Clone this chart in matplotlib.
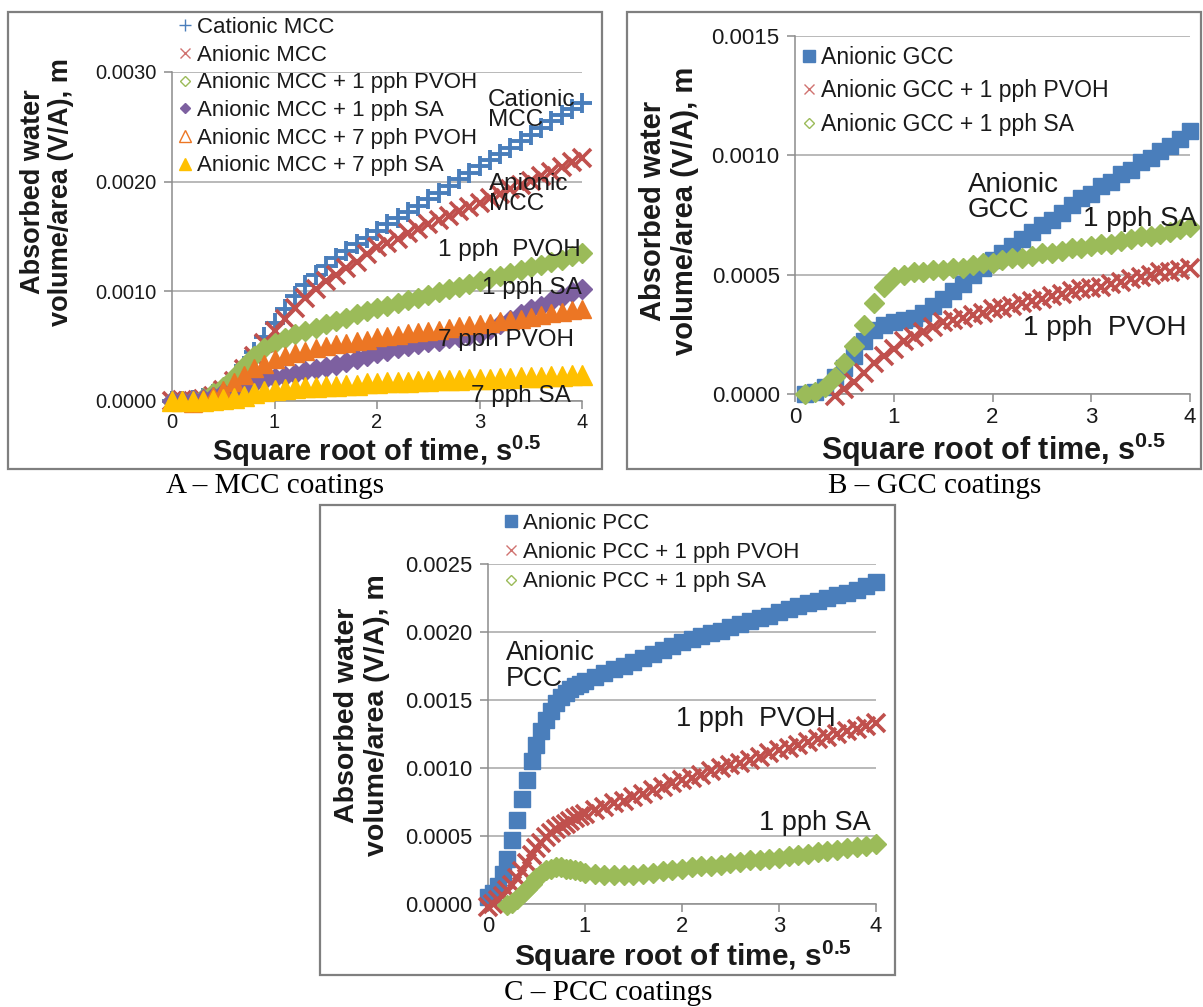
import numpy as np
import matplotlib
matplotlib.use('Agg')
import matplotlib.pyplot as plt
from matplotlib.lines import Line2D
from matplotlib.patches import Rectangle
from matplotlib.ticker import FormatStrFormatter

plt.rcParams['font.family'] = ['Liberation Sans', 'DejaVu Sans']
plt.rcParams['mathtext.fontset'] = 'custom'
plt.rcParams['mathtext.rm'] = 'Liberation Sans'
plt.rcParams['mathtext.bf'] = 'Liberation Sans:bold'

nan = np.nan

# Square root of time (s^0.5) for the MCC and GCC runs
sqrt_t = [0.0, 0.1, 0.2, 0.3, 0.4, 0.5, 0.6, 0.7, 0.8, 0.9,
          1.0, 1.1, 1.2, 1.3, 1.4, 1.5, 1.6, 1.7, 1.8, 1.9,
          2.0, 2.1, 2.2, 2.3, 2.4, 2.5, 2.6, 2.7, 2.8, 2.9,
          3.0, 3.1, 3.2, 3.3, 3.4, 3.5, 3.6, 3.7, 3.8, 3.9, 4.0]
# PCC runs are sampled finer over the fast initial uptake
sqrt_t_pcc = [0.0, 0.05, 0.1, 0.15, 0.2, 0.25, 0.3, 0.35, 0.4, 0.45,
              0.5, 0.55, 0.6, 0.65, 0.7, 0.75, 0.8, 0.85, 0.9, 0.95,
              1.0, 1.1, 1.2, 1.3, 1.4, 1.5, 1.6, 1.7, 1.8, 1.9,
              2.0, 2.1, 2.2, 2.3, 2.4, 2.5, 2.6, 2.7, 2.8, 2.9,
              3.0, 3.1, 3.2, 3.3, 3.4, 3.5, 3.6, 3.7, 3.8, 3.9, 4.0]

# Absorbed water volume/area, in units of 1e-3 m
# A - MCC coatings
cationic_mcc = [0.00, 0.00, 0.01, 0.03, 0.06, 0.11, 0.20, 0.32, 0.45, 0.58,
                0.71, 0.84, 0.96, 1.06, 1.15, 1.23, 1.30, 1.37, 1.43, 1.49,
                1.55, 1.61, 1.67, 1.72, 1.78, 1.84, 1.90, 1.96, 2.02, 2.08,
                2.14, 2.20, 2.25, 2.31, 2.37, 2.43, 2.49, 2.55, 2.61, 2.66, 2.72]
anionic_mcc = [0.00, 0.01, 0.00, 0.02, 0.05, 0.10, 0.18, 0.29, 0.41, 0.53,
               0.64, 0.75, 0.85, 0.94, 1.02, 1.09, 1.15, 1.21, 1.27, 1.34,
               1.40, 1.44, 1.48, 1.53, 1.57, 1.61, 1.65, 1.69, 1.73, 1.77,
               1.81, 1.85, 1.89, 1.93, 1.97, 2.01, 2.05, 2.09, 2.13, 2.18, 2.22]
mcc_1pvoh = [0.00, 0.00, 0.01, 0.03, 0.07, 0.13, 0.22, 0.32, 0.41, 0.48,
             0.53, 0.57, 0.61, 0.64, 0.67, 0.70, 0.73, 0.76, 0.79, 0.82,
             0.85, 0.87, 0.89, 0.92, 0.94, 0.97, 0.99, 1.02, 1.04, 1.07,
             1.09, 1.12, 1.14, 1.17, 1.19, 1.22, 1.24, 1.27, 1.29, 1.32, 1.35]
mcc_1sa = [0.00, 0.00, 0.01, 0.02, 0.04, 0.07, 0.10, 0.13, 0.16, 0.19,
           0.21, 0.23, 0.25, 0.27, 0.29, 0.31, 0.33, 0.36, 0.38, 0.41,
           0.44, 0.46, 0.48, 0.50, 0.52, 0.54, 0.55, 0.57, 0.58, 0.60,
           0.62, 0.66, 0.70, 0.74, 0.79, 0.84, 0.87, 0.91, 0.95, 0.99, 1.02]
mcc_7pvoh = [0.00, 0.01, -0.02, 0.02, 0.05, 0.10, 0.17, 0.24, 0.30, 0.34,
             0.38, 0.41, 0.44, 0.46, 0.48, 0.50, 0.52, 0.53, 0.55, 0.56,
             0.58, 0.59, 0.60, 0.62, 0.63, 0.64, 0.65, 0.67, 0.68, 0.69,
             0.70, 0.71, 0.73, 0.74, 0.75, 0.77, 0.78, 0.80, 0.81, 0.83, 0.84]
mcc_7sa = [0.00, 0.00, 0.00, 0.00, 0.01, 0.02, 0.03, 0.05, 0.07, 0.09,
           0.10, 0.11, 0.12, 0.13, 0.13, 0.14, 0.14, 0.15, 0.15, 0.16,
           0.16, 0.17, 0.17, 0.17, 0.18, 0.18, 0.19, 0.19, 0.19, 0.20,
           0.20, 0.20, 0.21, 0.21, 0.22, 0.22, 0.22, 0.23, 0.23, 0.24, 0.24]

# B - GCC coatings
anionic_gcc = [nan, 0.00, 0.01, 0.03, 0.07, 0.11, 0.16, 0.22, 0.27, 0.29,
               0.30, 0.31, 0.32, 0.34, 0.37, 0.40, 0.43, 0.46, 0.50, 0.53,
               0.56, 0.59, 0.62, 0.65, 0.68, 0.71, 0.73, 0.76, 0.79, 0.82,
               0.84, 0.87, 0.89, 0.92, 0.94, 0.97, 0.99, 1.02, 1.04, 1.07, 1.10]
gcc_1pvoh = [nan, nan, nan, nan, -0.01, 0.02, 0.05, 0.09, 0.13, 0.16,
             0.19, 0.22, 0.24, 0.26, 0.28, 0.30, 0.31, 0.32, 0.33, 0.34,
             0.355, 0.36, 0.37, 0.38, 0.39, 0.40, 0.41, 0.42, 0.43, 0.44,
             0.445, 0.45, 0.46, 0.47, 0.48, 0.49, 0.50, 0.51, 0.51, 0.52, 0.53]
gcc_1sa = [nan, 0.00, 0.01, 0.03, 0.07, 0.13, 0.20, 0.29, 0.38, 0.45,
           0.49, 0.50, 0.51, 0.51, 0.52, 0.52, 0.53, 0.53, 0.54, 0.55,
           0.55, 0.56, 0.57, 0.57, 0.58, 0.59, 0.59, 0.60, 0.61, 0.61,
           0.62, 0.63, 0.63, 0.64, 0.65, 0.66, 0.66, 0.67, 0.68, 0.69, 0.70]

# C - PCC coatings
anionic_pcc = [0.05, 0.08, 0.13, 0.22, 0.33, 0.47, 0.62, 0.77, 0.91, 1.05,
               1.17, 1.27, 1.35, 1.42, 1.48, 1.52, 1.55, 1.58, 1.60, 1.62,
               1.64, 1.67, 1.70, 1.73, 1.75, 1.78, 1.81, 1.84, 1.87, 1.90,
               1.93, 1.95, 1.97, 1.99, 2.01, 2.04, 2.06, 2.08, 2.10, 2.12,
               2.15, 2.17, 2.19, 2.21, 2.23, 2.25, 2.27, 2.29, 2.31, 2.34, 2.37]
pcc_1pvoh = [-0.02, 0.00, 0.03, 0.06, 0.10, 0.14, 0.19, 0.24, 0.30, 0.36,
             0.41, 0.45, 0.49, 0.52, 0.55, 0.57, 0.59, 0.61, 0.63, 0.645,
             0.66, 0.69, 0.71, 0.74, 0.76, 0.79, 0.81, 0.84, 0.86, 0.89,
             0.91, 0.93, 0.95, 0.98, 1.00, 1.02, 1.04, 1.06, 1.08, 1.11,
             1.13, 1.15, 1.17, 1.19, 1.21, 1.23, 1.25, 1.27, 1.29, 1.31, 1.33]
pcc_1sa = [nan, nan, nan, nan, -0.01, 0.01, 0.04, 0.07, 0.11, 0.15,
           0.19, 0.22, 0.25, 0.26, 0.27, 0.27, 0.26, 0.26, 0.25, 0.24,
           0.23, 0.22, 0.21, 0.21, 0.21, 0.21, 0.22, 0.23, 0.24, 0.25,
           0.26, 0.27, 0.28, 0.28, 0.29, 0.30, 0.31, 0.32, 0.32, 0.33,
           0.34, 0.35, 0.36, 0.37, 0.38, 0.39, 0.40, 0.41, 0.42, 0.43, 0.44]

labels_a = ['Cationic MCC', 'Anionic MCC', 'Anionic MCC + 1 pph PVOH',
            'Anionic MCC + 1 pph SA', 'Anionic MCC + 7 pph PVOH', 'Anionic MCC + 7 pph SA']
labels_b = ['Anionic GCC', 'Anionic GCC + 1 pph PVOH', 'Anionic GCC + 1 pph SA']
labels_c = ['Anionic PCC', 'Anionic PCC + 1 pph PVOH', 'Anionic PCC + 1 pph SA']

BLUE, RED, GREEN = '#4A7EBB', '#C0504D', '#9BBB59'
PURPLE, ORANGE, YELLOW = '#7D60A0', '#EC7624', '#FFC000'
TXT = '#1a1a1a'

W, H = 1203, 1007
fig = plt.figure(figsize=(W / 100, H / 100), dpi=100)


def px_rect(left, top, right, bottom):
    return [left / W, 1 - bottom / H, (right - left) / W, (bottom - top) / H]


def fx(x):
    return x / W


def fy(y):
    return 1 - y / H


# (marker, size, face, edge, edge width) on the plot and in the legend
styles = {
    'plus': ('+', 14, BLUE, BLUE, 2.8),
    'cross': ('x', 13, RED, RED, 2.6),
    'dia_open': ('D', 10.5, GREEN, GREEN, 1.0),
    'dia': ('D', 10.5, PURPLE, PURPLE, 1.0),
    'tri_open': ('^', 13, ORANGE, ORANGE, 1.0),
    'tri': ('^', 15, YELLOW, YELLOW, 1.0),
    'sq': ('s', 11, BLUE, BLUE, 1.0),
}
legend_styles = {
    'plus': ('+', 8, BLUE, BLUE, 1.0),
    'cross': ('x', 7, '#D07370', '#D07370', 1.0),
    'dia_open': ('D', 5.5, 'white', GREEN, 1.0),
    'dia': ('D', 5.5, PURPLE, PURPLE, 1.0),
    'tri_open': ('^', 8, 'white', ORANGE, 1.0),
    'tri': ('^', 9, YELLOW, YELLOW, 1.0),
    'sq': ('s', 9, BLUE, BLUE, 1.0),
}


def draw_panel(rect, x, ymax, ystep, tick_fs, series, keys):
    ax = fig.add_axes(px_rect(*rect))
    ax.patch.set_alpha(0)
    for vals, key in zip(series, keys):
        m, ms, fc, ec, mew = styles[key]
        ax.plot(x, np.array(vals) * 1e-3, ls='none', marker=m, ms=ms,
                mfc=fc, mec=ec, mew=mew, clip_on=False, zorder=3)
    ax.set_xlim(0, 4)
    ax.set_ylim(0, ymax)
    ax.set_xticks([0, 1, 2, 3, 4])
    ax.set_yticks(np.arange(0, ymax + ystep / 2, ystep))
    ax.yaxis.set_major_formatter(FormatStrFormatter('%.4f'))
    ax.grid(axis='y', color='#A6A6A6', lw=1.1)
    ax.set_axisbelow(True)
    for s in ['top', 'right']:
        ax.spines[s].set_visible(False)
    for s in ['left', 'bottom']:
        ax.spines[s].set_color('#8C8C8C')
        ax.spines[s].set_linewidth(1.1)
    ax.tick_params(direction='out', length=6, width=1.1, color='#8C8C8C',
                   labelsize=tick_fs, labelcolor=TXT)
    ax.tick_params(axis='x', pad=3)
    ax.tick_params(axis='y', pad=5)
    return ax


def add_legend(keys, labels, left, top, fs, spacing, textpad):
    handles = []
    for key in keys:
        m, ms, fc, ec, mew = legend_styles[key]
        handles.append(Line2D([], [], ls='none', marker=m, ms=ms, mfc=fc,
                              mec=ec, mew=mew))
    fig.legend(handles, labels, loc='upper left',
               bbox_to_anchor=(fx(left), fy(top)), frameon=False,
               fontsize=fs, handlelength=0.8, handletextpad=textpad,
               labelspacing=spacing, borderpad=0, borderaxespad=0,
               labelcolor=TXT)


def frame(left, top, right, bottom):
    fig.add_artist(Rectangle((fx(left), fy(bottom)), (right - left) / W,
                             (bottom - top) / H, transform=fig.transFigure,
                             fill=False, ec='#7F7F7F', lw=1.6))


def axis_titles(ylab_x, ylab_y, ylab_fs, xlab_x, xlab_y, xlab_fs):
    fig.text(fx(ylab_x), fy(ylab_y), 'Absorbed water\nvolume/area (V/A), m',
             rotation=90, ha='center', va='center', multialignment='center',
             fontsize=ylab_fs, fontweight='bold', color=TXT, linespacing=1.15)
    fig.text(fx(xlab_x), fy(xlab_y), r'Square root of time, s$^{\mathbf{0.5}}$',
             ha='center', va='center', fontsize=xlab_fs, fontweight='bold',
             color=TXT)


# ---- A: MCC coatings ----
frame(8, 12, 602, 469)
ax_a = draw_panel((172, 72, 582, 401), sqrt_t, 0.0030, 0.0010, 14.5,
                  [cationic_mcc, anionic_mcc, mcc_1pvoh, mcc_1sa, mcc_7pvoh, mcc_7sa],
                  ['plus', 'cross', 'dia_open', 'dia', 'tri_open', 'tri'])
add_legend(['plus', 'cross', 'dia_open', 'dia', 'tri_open', 'tri'], labels_a,
           176, 17, 16, 0.3, 0.14)
axis_titles(47, 192, 19.5, 377, 451, 21)
for x, y, s in [(3.08, 2.65e-3, 'Cationic\nMCC'), (3.09, 1.89e-3, 'Anionic\nMCC'),
                (2.60, 1.38e-3, '1 pph  PVOH'), (3.02, 1.03e-3, '1 pph SA'),
                (2.60, 0.56e-3, '7 pph PVOH'), (2.92, 0.05e-3, '7 pph SA')]:
    ax_a.text(x, y, s, fontsize=17.5, ha='left', va='center', color=TXT,
              linespacing=0.88, zorder=5)
fig.text(fx(275), fy(486), 'A \u2013 MCC coatings', family='Liberation Serif',
         fontsize=21, ha='center', va='center', color='black')

# ---- B: GCC coatings ----
frame(627, 12, 1201, 469)
ax_b = draw_panel((795, 36, 1190, 394), sqrt_t, 0.0015, 0.0005, 16,
                  [anionic_gcc, gcc_1pvoh, gcc_1sa], ['sq', 'cross', 'dia_open'])
add_legend(['sq', 'cross', 'dia_open'], labels_b, 800, 46, 16.6, 0.45, 0.1)
axis_titles(669, 211, 21, 993, 450, 22)
for x, y, s in [(1.75, 0.823e-3, 'Anionic\nGCC'), (2.92, 0.735e-3, '1 pph SA'),
                (2.31, 0.275e-3, '1 pph  PVOH')]:
    ax_b.text(x, y, s, fontsize=20, ha='left', va='center', color=TXT,
              linespacing=0.95, zorder=5)
fig.text(fx(935), fy(486), 'B \u2013 GCC coatings', family='Liberation Serif',
         fontsize=21, ha='center', va='center', color='black')

# ---- C: PCC coatings ----
frame(320, 505, 895, 975)
ax_c = draw_panel((488, 564, 876, 904), sqrt_t_pcc, 0.0025, 0.0005, 15.8,
                  [anionic_pcc, pcc_1pvoh, pcc_1sa], ['sq', 'cross', 'dia_open'])
add_legend(['sq', 'cross', 'dia_open'], labels_c, 502, 513, 16, 0.37, 0.14)
axis_titles(362, 715, 20.5, 683, 956, 21.5)
for x, y, s in [(0.18, 1.75e-3, 'Anionic\nPCC'), (1.94, 1.36e-3, '1 pph  PVOH'),
                (2.79, 0.596e-3, '1 pph SA')]:
    ax_c.text(x, y, s, fontsize=19.5, ha='left', va='center', color=TXT,
              linespacing=0.95, zorder=5)
fig.text(fx(608), fy(993), 'C \u2013 PCC coatings', family='Liberation Serif',
         fontsize=21, ha='center', va='center', color='black')

fig.savefig('out.png', dpi=100)
